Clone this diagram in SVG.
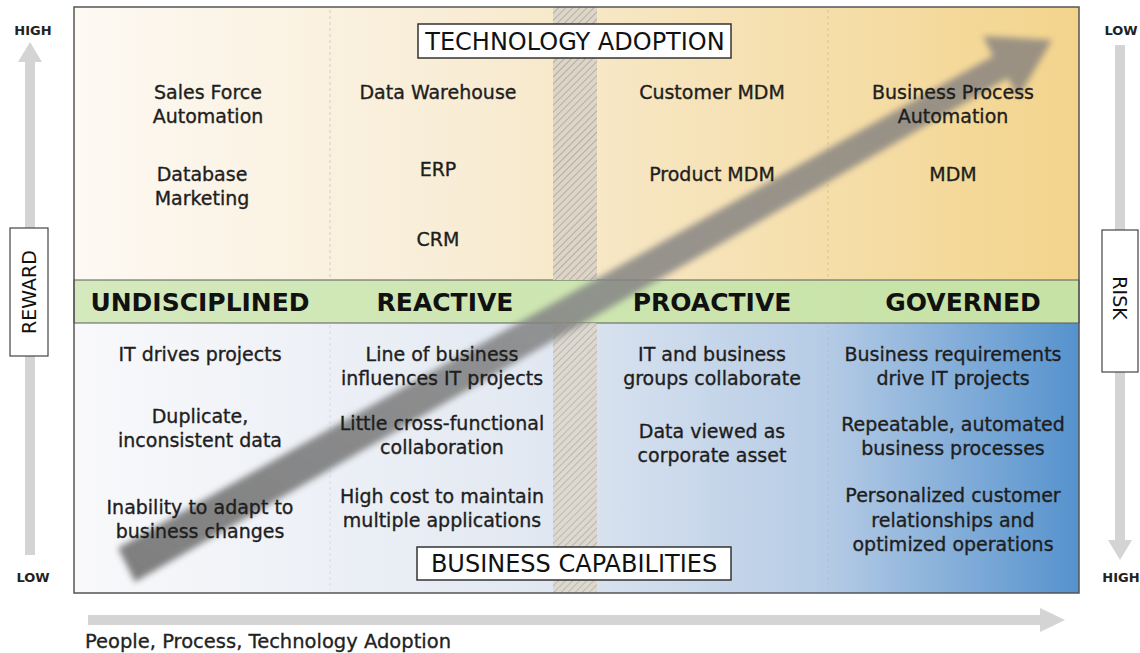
<svg xmlns="http://www.w3.org/2000/svg" width="1140" height="653" viewBox="0 0 1140 653">
<defs>
<style>
.t{font-family:"DejaVu Sans","Open Sans",sans-serif;font-size:19px;fill:#1e1e1e;stroke:#1e1e1e;stroke-width:0.35;text-anchor:middle}
.h{font-family:"DejaVu Sans","Open Sans",sans-serif;font-size:25px;font-weight:bold;fill:#111;text-anchor:middle}
.box{font-family:"DejaVu Sans","Open Sans",sans-serif;font-size:24px;fill:#111;text-anchor:middle}
.s{font-family:"DejaVu Sans","Open Sans",sans-serif;font-size:13px;font-weight:bold;fill:#222;text-anchor:middle}
.ax{fill:#d4d4d4}
</style>
<linearGradient id="top" x1="0" y1="0" x2="1" y2="0">
<stop offset="0" stop-color="#fdf9f3"/><stop offset="0.4" stop-color="#f8ecd4"/><stop offset="1" stop-color="#f3d48c"/>
</linearGradient>
<linearGradient id="bot" x1="0" y1="0" x2="1" y2="0">
<stop offset="0" stop-color="#f9f9fb"/><stop offset="0.45" stop-color="#e3e9f2"/><stop offset="0.75" stop-color="#b5cbe5"/><stop offset="1" stop-color="#5592cd"/>
</linearGradient>
<linearGradient id="grn" x1="0" y1="0" x2="1" y2="0">
<stop offset="0" stop-color="#d4e9bd"/><stop offset="1" stop-color="#c6e2a4"/>
</linearGradient>
<linearGradient id="arr" x1="0" y1="1" x2="1" y2="0">
<stop offset="0" stop-color="#6a6a6a"/><stop offset="0.5" stop-color="#858585"/><stop offset="1" stop-color="#8c8580"/>
</linearGradient>
<pattern id="hatch" width="5" height="5" patternUnits="userSpaceOnUse" patternTransform="rotate(45)">
<rect width="5" height="5" fill="#ddd6c8"/><line x1="0" y1="0" x2="0" y2="5" stroke="#aaa397" stroke-width="1.6"/>
</pattern>
<filter id="blur" x="-10%" y="-10%" width="120%" height="120%"><feGaussianBlur stdDeviation="3"/></filter>
</defs>

<g id="axes">
<polygon class="ax" points="25,555 25,62 18,62 30,42 42,62 35,62 35,555"/>
<polygon class="ax" points="1115,45 1115,540 1108,540 1120,560 1132,540 1125,540 1125,45"/>
<polygon class="ax" points="88,615 1040,615 1040,608 1065,620 1040,632 1040,625 88,625"/>
<text class="s" x="33" y="35">HIGH</text>
<text class="s" x="33" y="582">LOW</text>
<text class="s" x="1121" y="35">LOW</text>
<text class="s" x="1121" y="582">HIGH</text>
<text x="85" y="648" style="font-family:'DejaVu Sans','Open Sans',sans-serif;font-size:19.5px;fill:#222;stroke:#222;stroke-width:0.3">People, Process, Technology Adoption</text>
</g>

<g id="reward">
<rect x="10" y="228" width="38" height="128" fill="#fff" stroke="#444" stroke-width="1.2"/>
<text class="box" transform="translate(36,292) rotate(-90)" style="font-size:19px">REWARD</text>
</g>
<g id="risk">
<rect x="1102" y="230" width="36" height="142" fill="#fff" stroke="#444" stroke-width="1.2"/>
<text class="box" transform="translate(1113,298) rotate(90)" style="font-size:19px">RISK</text>
</g>

<g id="matrix">
<rect x="74" y="7" width="1005" height="273" fill="url(#top)"/>
<rect x="74" y="323" width="1005" height="270" fill="url(#bot)"/>
<rect x="74" y="280" width="1005" height="43" fill="url(#grn)" stroke="#5a5a5a" stroke-width="1"/>
<rect x="553" y="7" width="44" height="273" fill="url(#hatch)"/>
<rect x="553" y="323" width="44" height="270" fill="url(#hatch)" opacity="0.8"/>
<line x1="330" y1="10" x2="330" y2="278" stroke="#d8ccb4" stroke-dasharray="3,3"/>
<line x1="330" y1="325" x2="330" y2="590" stroke="#d6dbe2" stroke-dasharray="3,3"/>
<line x1="828" y1="10" x2="828" y2="278" stroke="#d9c48e" stroke-dasharray="3,3"/>
<line x1="828" y1="325" x2="828" y2="590" stroke="#a9c1dc" stroke-dasharray="3,3"/>
<rect x="74" y="7" width="1005" height="586" fill="none" stroke="#555" stroke-width="1.5"/>
</g>

<g id="bigarrow" filter="url(#blur)" opacity="0.85">
<polygon fill="url(#arr)" points="118,548 993,56 983,36 1052,40 1018,98 1008,78 135,582"/>
</g>

<g id="tech-box">
<rect x="418" y="24" width="313" height="34" fill="#fff" stroke="#333" stroke-width="1.5"/>
<text class="box" x="575" y="50">TECHNOLOGY ADOPTION</text>
</g>
<g id="biz-box">
<rect x="417" y="547" width="314" height="33" fill="#fff" stroke="#333" stroke-width="1.5"/>
<text class="box" x="574" y="572">BUSINESS CAPABILITIES</text>
</g>

<g id="tech-col1">
<text class="t" x="208" y="99">Sales Force</text>
<text class="t" x="208" y="123">Automation</text>
<text class="t" x="202" y="181">Database</text>
<text class="t" x="202" y="205">Marketing</text>
</g>
<g id="tech-col2">
<text class="t" x="438" y="99">Data Warehouse</text>
<text class="t" x="438" y="176">ERP</text>
<text class="t" x="438" y="246">CRM</text>
</g>
<g id="tech-col3">
<text class="t" x="712" y="99">Customer MDM</text>
<text class="t" x="712" y="181">Product MDM</text>
</g>
<g id="tech-col4">
<text class="t" x="953" y="99">Business Process</text>
<text class="t" x="953" y="123">Automation</text>
<text class="t" x="953" y="181">MDM</text>
</g>

<g id="stages">
<text class="h" x="200" y="311">UNDISCIPLINED</text>
<text class="h" x="445" y="311">REACTIVE</text>
<text class="h" x="712" y="311">PROACTIVE</text>
<text class="h" x="963" y="311">GOVERNED</text>
</g>

<g id="cap-col1">
<text class="t" x="200" y="361">IT drives projects</text>
<text class="t" x="200" y="423">Duplicate,</text>
<text class="t" x="200" y="447">inconsistent data</text>
<text class="t" x="200" y="514">Inability to adapt to</text>
<text class="t" x="200" y="538">business changes</text>
</g>
<g id="cap-col2">
<text class="t" x="442" y="361">Line of business</text>
<text class="t" x="442" y="385">influences IT projects</text>
<text class="t" x="442" y="430">Little cross-functional</text>
<text class="t" x="442" y="454">collaboration</text>
<text class="t" x="442" y="503">High cost to maintain</text>
<text class="t" x="442" y="527">multiple applications</text>
</g>
<g id="cap-col3">
<text class="t" x="712" y="361">IT and business</text>
<text class="t" x="712" y="385">groups collaborate</text>
<text class="t" x="712" y="438">Data viewed as</text>
<text class="t" x="712" y="462">corporate asset</text>
</g>
<g id="cap-col4">
<text class="t" x="953" y="361">Business requirements</text>
<text class="t" x="953" y="385">drive IT projects</text>
<text class="t" x="953" y="431">Repeatable, automated</text>
<text class="t" x="953" y="455">business processes</text>
<text class="t" x="953" y="502">Personalized customer</text>
<text class="t" x="953" y="527">relationships and</text>
<text class="t" x="953" y="551">optimized operations</text>
</g>
</svg>
